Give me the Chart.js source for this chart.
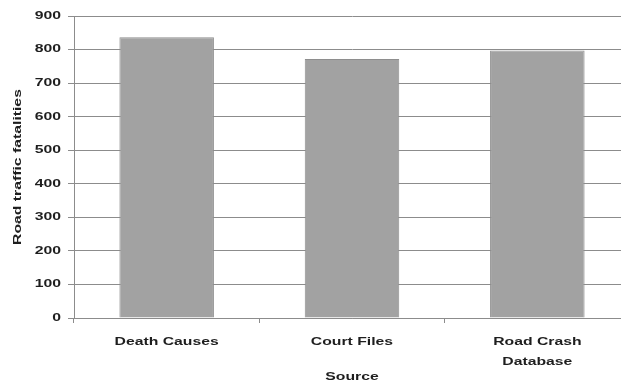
<!DOCTYPE html>
<html>
<head>
<meta charset="utf-8">
<script src="https://cdn.jsdelivr.net/npm/chart.js@4"></script>
<style>
  html, body { margin: 0; padding: 0; background: #fff; overflow: hidden; }
  #wrap { width: 640px; height: 383px; }
</style>
</head>
<body>
<div id="wrap"><canvas id="c" width="640" height="383"></canvas></div>
<script>
// Road traffic fatalities recorded by each data source
const sources = ['Death Causes', 'Court Files', ['Road Crash', 'Database']];
const fatalities = [837, 772, 797];
const yTicks = [0, 100, 200, 300, 400, 500, 600, 700, 800, 900];

// Wide lettering: every label is drawn stretched along its reading direction
const TEXT_STRETCH = 1.5;
const canvas = document.getElementById('c');
const ctx = canvas.getContext('2d');
const baseFillText = ctx.fillText;
const baseMeasureText = ctx.measureText;
ctx.fillText = function (text, x, y, maxWidth) {
  this.save();
  this.translate(x, y);
  this.scale(TEXT_STRETCH, 1);
  if (maxWidth !== undefined) baseFillText.call(this, text, 0, 0, maxWidth / TEXT_STRETCH);
  else baseFillText.call(this, text, 0, 0);
  this.restore();
};
ctx.measureText = function (text) {
  const m = baseMeasureText.call(this, text);
  return {
    width: m.width * TEXT_STRETCH,
    actualBoundingBoxAscent: m.actualBoundingBoxAscent,
    actualBoundingBoxDescent: m.actualBoundingBoxDescent,
    actualBoundingBoxLeft: m.actualBoundingBoxLeft * TEXT_STRETCH,
    actualBoundingBoxRight: m.actualBoundingBoxRight * TEXT_STRETCH
  };
};

const font = { family: '"Liberation Sans", Arial, sans-serif', size: 10.5, weight: 'bold' };
const xFont = Object.assign({}, font, { lineHeight: 1.9 });
const ink = '#1e1e1e';
const rule = '#8c8c8c';

new Chart(canvas, {
  type: 'bar',
  data: {
    labels: sources,
    datasets: [{
      data: fatalities,
      backgroundColor: '#a2a2a2',
      borderColor: '#8e8e8e',
      borderWidth: 1,
      categoryPercentage: 1,
      barPercentage: 0.51
    }]
  },
  options: {
    responsive: false,
    animation: false,
    layout: { padding: { left: 0, top: 16, right: 10, bottom: 0 } },
    plugins: { legend: { display: false }, tooltip: { enabled: false } },
    scales: {
      y: {
        min: 0, max: 900,
        afterBuildTicks: s => { s.ticks = yTicks.map(v => ({ value: v })); },
        afterFit: s => { s.width = 74; },
        border: { color: rule, width: 1 },
        grid: { color: rule, lineWidth: 1, tickLength: 6 },
        ticks: { font, color: ink, padding: 7 },
        title: { display: true, text: 'Road traffic fatalities', font, color: ink, padding: { top: 12, bottom: 0 } }
      },
      x: {
        afterFit: s => { s.height = 65; },
        border: { color: rule, width: 1 },
        grid: { color: rule, drawOnChartArea: false, tickLength: 5, offset: true },
        ticks: { font: xFont, color: ink, padding: 9, maxRotation: 0, autoSkip: false },
        title: { display: true, text: 'Source', font, color: ink, padding: { top: 0, bottom: 0 } }
      }
    }
  }
});
</script>
</body>
</html>
